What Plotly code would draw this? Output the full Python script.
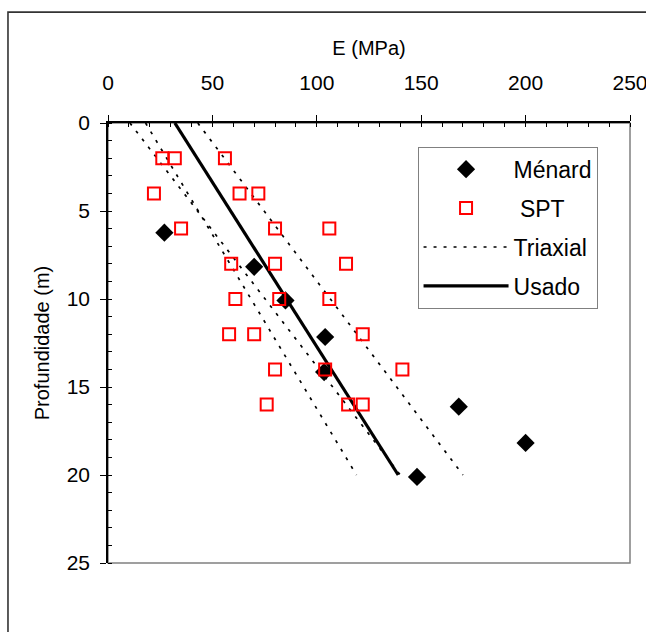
import plotly.graph_objects as go

# ---- data ----
menard_E = [27, 70, 85, 104, 103.5, 168, 200, 148]
menard_z = [6.23, 8.17, 10.08, 12.16, 14.15, 16.12, 18.18, 20.11]

spt_E = [26, 32, 56, 22, 63, 72, 35, 80, 106, 59, 80, 114,
         61, 82, 106, 58, 70, 122, 80, 104, 141, 76, 115, 122]
spt_z = [2, 2, 2, 4, 4, 4, 6, 6, 6, 8, 8, 8,
         10, 10, 10, 12, 12, 12, 14, 14, 14, 16, 16, 16]

triax_z = [0, 20]
triax_a_E = [18, 119]
triax_b_E = [10.5, 140]
triax_c_E = [43, 170]

usado_z = [0, 20]
usado_E = [32, 139]

x_ticks = [0, 50, 100, 150, 200, 250]
y_ticks = [0, 5, 10, 15, 20, 25]

FONT = "Liberation Sans, Arial, sans-serif"

fig = go.Figure()

# Triaxial: three lines in one trace separated by gaps
tx, tz = [], []
for line in (triax_a_E, triax_b_E, triax_c_E):
    tx += list(line) + [None]
    tz += list(triax_z) + [None]

fig.add_trace(go.Scatter(x=tx, y=tz, mode="lines", name="Triaxial",
                         line=dict(color="black", width=1.7, dash="3px,7px"),
                         legendgroup="c", legendrank=3, connectgaps=False))
fig.add_trace(go.Scatter(x=usado_E, y=usado_z, mode="lines", name="Usado",
                         line=dict(color="black", width=3.2),
                         legendgroup="d", legendrank=4))
fig.add_trace(go.Scatter(x=menard_E, y=menard_z, mode="markers", name="Ménard",
                         marker=dict(symbol="diamond", size=14, color="black"),
                         legendgroup="a", legendrank=1))
fig.add_trace(go.Scatter(x=spt_E, y=spt_z, mode="markers", name="\u00a0SPT",
                         marker=dict(symbol="square-open", size=12, color="#ff0000",
                                     line=dict(width=2, color="#ff0000")),
                         legendgroup="b", legendrank=2))

fig.update_layout(
    width=646, height=632,
    margin=dict(l=108, r=16, t=123, b=69, autoexpand=False),
    paper_bgcolor="white", plot_bgcolor="white",
    font=dict(family=FONT, color="black", size=20),
    showlegend=True,
    legend=dict(x=0.593, y=0.946, xanchor="left", yanchor="top",
                bgcolor="white", bordercolor="#808080", borderwidth=1,
                font=dict(size=23, family=FONT), itemwidth=85,
                tracegroupgap=6, traceorder="grouped"),
)

fig.update_xaxes(
    side="top", range=[0, 250], tickvals=x_ticks, ticktext=[str(v) for v in x_ticks],
    showgrid=False, zeroline=False, showline=True, linecolor="black", linewidth=1.5,
    ticks="outside", ticklen=6, tickcolor="black", tickwidth=1.2, automargin=False,
    ticklabelstandoff=17, ticklabeloverflow="allow", tickfont=dict(size=21),
    minor=dict(dtick=10, ticks="inside", ticklen=4, tickcolor="black", tickwidth=1.2),
    title=dict(text="E (MPa)", font=dict(size=20), standoff=10),
)
fig.update_yaxes(
    range=[25, 0], tickvals=y_ticks, ticktext=[str(v) for v in y_ticks],
    showgrid=False, zeroline=False, showline=True, linecolor="black", linewidth=1.5,
    ticks="outside", ticklen=6, tickcolor="black", tickwidth=1.2, automargin=False,
    ticklabelstandoff=6, tickfont=dict(size=21),
    minor=dict(dtick=1, ticks="inside", ticklen=4, tickcolor="black", tickwidth=1.2),
    title=dict(text="Profundidade (m)", font=dict(size=20), standoff=12),
)

# gray plot-area border (right & bottom visible) and the outer chart frame
fig.add_shape(type="rect", xref="paper", yref="paper", x0=0, y0=0, x1=1, y1=1,
              line=dict(color="#808080", width=1.5), layer="below")
fig.add_shape(type="rect", xref="paper", yref="paper",
              x0=-0.1916, y0=-0.3, x1=1.3, y1=1.252,
              line=dict(color="#333333", width=1.6), layer="below")

fig.write_html("out.html")
